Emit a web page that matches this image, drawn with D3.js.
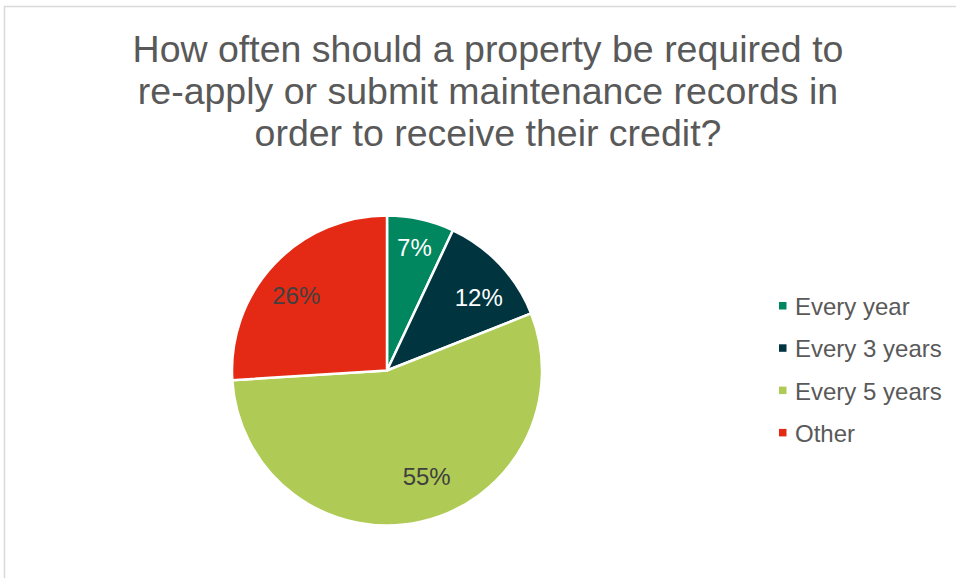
<!DOCTYPE html>
<html><head><meta charset="utf-8">
<script src="https://cdn.jsdelivr.net/npm/d3@7"></script>
<style>body{margin:0;background:#fff}svg{display:block}text{font-family:"Liberation Sans",Arial,sans-serif}</style>
</head><body><svg id="c" width="956" height="578"></svg>
<script>
const categories = ["Every year", "Every 3 years", "Every 5 years", "Other"];
const values = [7, 12, 55, 26];
const colors = ["#00875F", "#003540", "#AFCB55", "#E42A15"];
const labelColors = ["#ffffff", "#ffffff", "#404040", "#404040"];
const titleLines = ["How often should a property be required to", "re-apply or submit maintenance records in", "order to receive their credit?"];

const svg = d3.select("#c");
svg.append("rect").attr("x",4.5).attr("y",6.5).attr("width",1000).attr("height",600)
  .attr("fill","#fff").attr("stroke","#d9d9d9").attr("stroke-width",1.5);

svg.append("g").selectAll("text").data(titleLines).join("text")
  .attr("x",488).attr("y",(d,i)=>62+i*42).attr("text-anchor","middle")
  .attr("font-size",37.5).attr("fill","#595959").text(d=>d);

const cx=387, cy=370.5, r=155;
const pie = d3.pie().sort(null).value(d=>d)(values);
const arc = d3.arc().innerRadius(0).outerRadius(r);
const g = svg.append("g").attr("transform",`translate(${cx},${cy})`);
g.selectAll("path").data(pie).join("path").attr("d",arc)
  .attr("fill",(d,i)=>colors[i]).attr("stroke","#fff").attr("stroke-width",2.5).attr("stroke-linejoin","round");
const labelR = [0.81, 0.75, 0.73, 0.75];
const offsets = [[0,0],[7,7],[15,-4],[-6,5]];
g.selectAll("text").data(pie).join("text")
  .attr("transform",(d,i)=>{
    const c=d3.arc().innerRadius(r*labelR[i]).outerRadius(r*labelR[i]).centroid(d);
    return `translate(${c[0]+offsets[i][0]},${c[1]+offsets[i][1]})`;})
  .attr("text-anchor","middle").attr("dy","0.35em").attr("font-size",24)
  .attr("fill",(d,i)=>labelColors[i]).text(d=>d.data+"%");

const lg = svg.append("g");
const items = lg.selectAll("g").data(categories).join("g")
  .attr("transform",(d,i)=>`translate(779,${315+i*42.3})`);
items.append("rect").attr("x",0).attr("y",-13).attr("width",7.5).attr("height",7.5).attr("fill",(d,i)=>colors[i]);
items.append("text").attr("x",16).attr("font-size",24)
  .attr("fill","#595959").text(d=>d);
</script></body></html>
